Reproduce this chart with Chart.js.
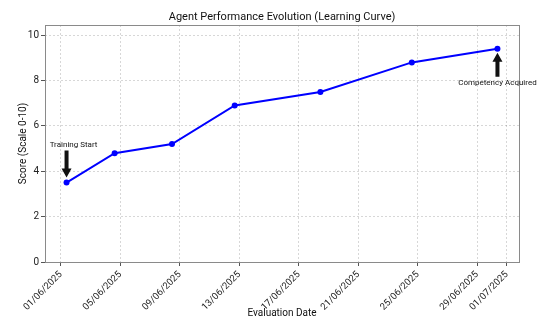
<!DOCTYPE html>
<html><head><meta charset="utf-8">
<script src="https://cdn.jsdelivr.net/npm/chart.js@4.4.1/dist/chart.umd.min.js"></script>
<style>html,body{margin:0;padding:0;background:#fff;}</style>
</head><body>
<canvas id="c" width="550" height="329"></canvas>
<script>
// ---- data ----
const evaluationDates = ["2025-06-01T09:00","2025-06-04T14:40","2025-06-08T11:15","2025-06-12T16:30","2025-06-18T10:50","2025-06-24T14:25","2025-06-30T08:40"];
const scores = [3.5, 4.8, 5.2, 6.9, 7.5, 8.8, 9.4];
const xTickDates = ["2025-06-01","2025-06-05","2025-06-09","2025-06-13","2025-06-17","2025-06-21","2025-06-25","2025-06-29","2025-07-01"];
const yTicks = [0, 2, 4, 6, 8, 10];
const yMax = 10.45;
const chartTitle = "Agent Performance Evolution (Learning Curve)";
const annotationLabels = ["Training Start", "Competency Acquired"];
const annotationIndex = [0, 6];
const annotationSide = ["above", "below"];

// ---- helpers ----
const DAY = 86400000;
const origin = Date.parse(xTickDates[0] + "T00:00:00Z");
function parseDays(s){ const full = s.length > 10 ? s + ":00Z" : s + "T00:00:00Z"; return (Date.parse(full) - origin) / DAY; }
function fmt(d){ const dt = new Date(origin + Math.round(d * DAY)); const dd = String(dt.getUTCDate()).padStart(2,'0'); const mm = String(dt.getUTCMonth()+1).padStart(2,'0'); return dd + "/" + mm + "/" + dt.getUTCFullYear(); }

const xs = evaluationDates.map(parseDays);
const xTickVals = xTickDates.map(parseDays);
const xMinD = Math.min(...xs), xMaxD = Math.max(...xs), span = xMaxD - xMinD;
const points = xs.map((x, i) => ({x: x, y: scores[i]}));

const FONT = "Roboto, 'DejaVu Sans', sans-serif";
Chart.defaults.font.family = FONT;
Chart.defaults.color = "#222";

const framePlugin = {
  id: 'frame',
  beforeDatasetsDraw(chart){
    const {ctx, chartArea:a} = chart;
    ctx.save();
    ctx.strokeStyle = '#8a8a8a';
    ctx.lineWidth = 1;
    ctx.strokeRect(Math.round(a.left)+0.5, Math.round(a.top)+0.5, Math.round(a.right-a.left), Math.round(a.bottom-a.top));
    ctx.restore();
  },
  afterDraw(chart){
    const {ctx, chartArea:a} = chart;
    ctx.save();
    ctx.fillStyle = '#111';
    ctx.font = "11px " + FONT;
    ctx.textAlign = 'center';
    ctx.textBaseline = 'middle';
    ctx.fillText(chartTitle, (a.left + a.right) / 2, a.top - 8);
    ctx.restore();
  }
};

function drawArrow(ctx, x, yBase, yTip){
  const dir = Math.sign(yTip - yBase);
  const headLen = 9, headW = 5, shaftW = 2;
  const yHead = yTip - dir * headLen;
  ctx.beginPath();
  ctx.moveTo(x - shaftW, yBase);
  ctx.lineTo(x + shaftW, yBase);
  ctx.lineTo(x + shaftW, yHead);
  ctx.lineTo(x + headW, yHead);
  ctx.lineTo(x, yTip);
  ctx.lineTo(x - headW, yHead);
  ctx.lineTo(x - shaftW, yHead);
  ctx.closePath();
  ctx.fill();
}

const annotPlugin = {
  id: 'annot',
  afterDatasetsDraw(chart){
    const {ctx} = chart;
    const meta = chart.getDatasetMeta(0);
    ctx.save();
    ctx.fillStyle = '#111';
    ctx.font = "8px " + FONT;
    ctx.textAlign = 'center';
    ctx.textBaseline = 'middle';
    annotationIndex.forEach((idx, k) => {
      const p = meta.data[idx];
      if (annotationSide[k] === 'above') {
        drawArrow(ctx, p.x, p.y - 32, p.y - 5);
        ctx.fillText(annotationLabels[k], p.x + 7, p.y - 38);
      } else {
        drawArrow(ctx, p.x, p.y + 28, p.y + 4);
        ctx.fillText(annotationLabels[k], p.x, p.y + 34);
      }
    });
    ctx.restore();
  }
};

new Chart(document.getElementById('c'), {
  type: 'line',
  data: {
    datasets: [{
      data: points,
      borderColor: '#0000ff',
      backgroundColor: '#0000ff',
      borderWidth: 2,
      pointRadius: 3,
      pointBorderWidth: 0,
      pointBackgroundColor: '#0000ff',
      tension: 0
    }]
  },
  options: {
    responsive: false,
    devicePixelRatio: 1,
    animation: false,
    layout: {padding: {left: 0, right: 31, top: 25, bottom: 0}},
    plugins: {
      legend: {display: false},
      tooltip: {enabled: false},
      title: {display: false}
    },
    scales: {
      x: {
        type: 'linear',
        min: xMinD - 0.05 * span,
        max: xMaxD + 0.05 * span,
        afterBuildTicks: s => { s.ticks = xTickVals.map(v => ({value: v})); },
        afterFit: s => { s.height = 67; },
        ticks: {
          callback: v => fmt(v),
          autoSkip: false,
          maxRotation: 45,
          minRotation: 45,
          font: {size: 9.5},
          color: '#222',
          padding: 3
        },
        grid: {color: 'rgba(0,0,0,0.2)', lineWidth: 0.8, tickLength: 4, tickColor: '#555', tickWidth: 1, tickBorderDash: []},
        border: {display: false, dash: [2, 2]},
        title: {display: true, text: 'Evaluation Date', font: {size: 10, lineHeight: 1.2}, color: '#111', padding: {top: 0, bottom: 10}}
      },
      y: {
        type: 'linear',
        min: 0,
        max: yMax,
        afterBuildTicks: s => { s.ticks = yTicks.map(v => ({value: v})); },
        afterFit: s => { s.width = 45; },
        ticks: {font: {size: 10}, color: '#222', padding: 2},
        grid: {color: 'rgba(0,0,0,0.2)', lineWidth: 0.8, tickLength: 4, tickColor: '#555', tickWidth: 1, tickBorderDash: []},
        border: {display: false, dash: [2, 2]},
        title: {display: true, text: 'Score (Scale 0-10)', font: {size: 10, lineHeight: 1.2}, color: '#111', padding: {top: 17, bottom: 0}}
      }
    }
  },
  plugins: [framePlugin, annotPlugin]
});
</script>
</body></html>
